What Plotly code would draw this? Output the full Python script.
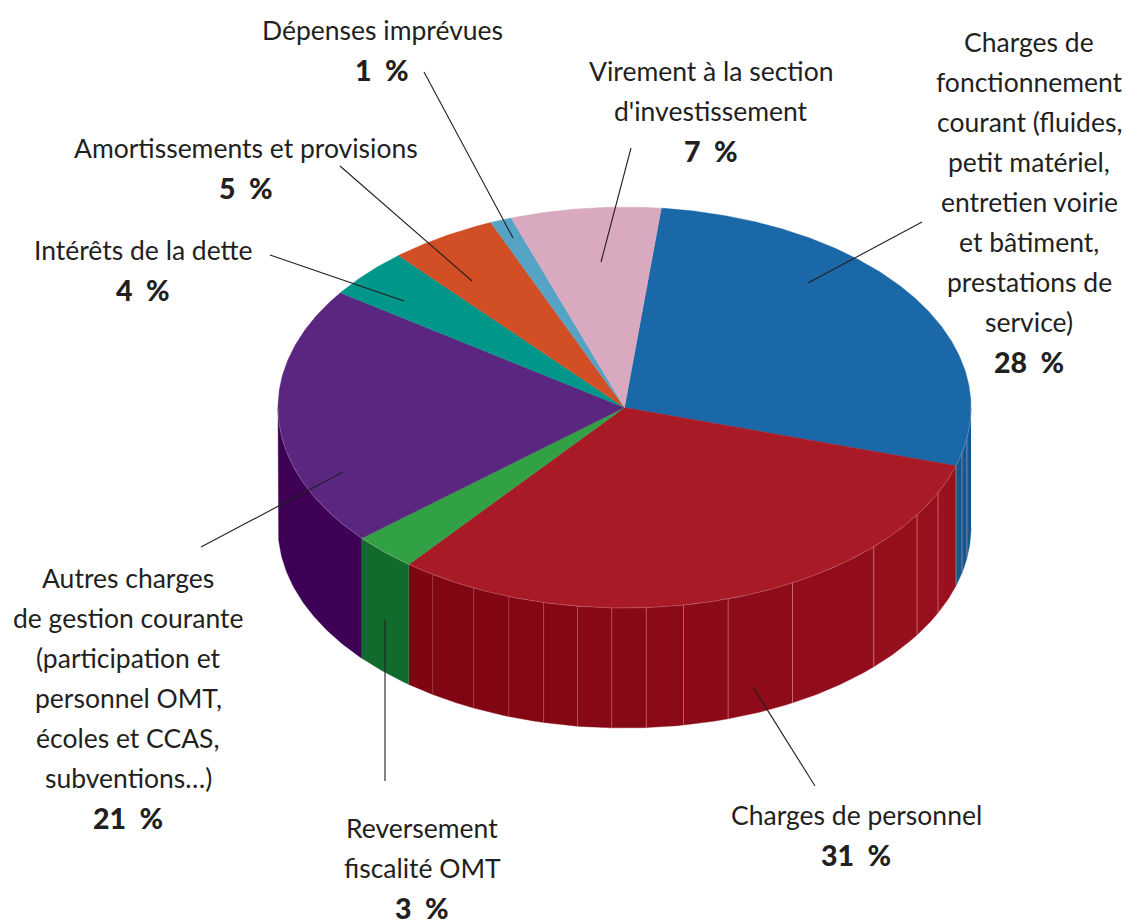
import math
import plotly.graph_objects as go

# --- data -------------------------------------------------------------
CATEGORIES = ["Charges de fonctionnement courant", "Charges de personnel",
              "Reversement fiscalité OMT", "Autres charges de gestion courante",
              "Intérêts de la dette", "Amortissements et provisions",
              "Dépenses imprévues", "Virement à la section d'investissement"]
VALUES = [28, 31, 3, 21, 4, 5, 1, 7]
LABEL_LINES = [
    ["Charges de", "fonctionnement", "courant (fluides,", "petit matériel,",
     "entretien voirie", "et bâtiment,", "prestations de", "service)"],
    ["Charges de personnel"],
    ["Reversement", "fiscalité OMT"],
    ["Autres charges", "de gestion courante", "(participation et",
     "personnel OMT,", "écoles et CCAS,", "subventions…)"],
    ["Intérêts de la dette"],
    ["Amortissements et provisions"],
    ["Dépenses imprévues"],
    ["Virement à la section", "d'investissement"],
]
# wall facet boundaries, degrees clockwise from the top of the disc
FACET_ANGLES = [90, 98.8, 103.1, 106.9, 115.2, 122.4, 134, 151, 162.6, 170.2,
                176.4, 182.1, 187.8, 193.5, 199.5, 205.8, 213.6, 218.5, 229.3, 270]

# --- style / layout ---------------------------------------------------
TOP_COLORS = ["#1a68a8", "#a71a26", "#32a045", "#5a267f", "#00968a", "#d24f25", "#55a3c5", "#d9a9bf"]
WALL_COLORS = {0: "#14588f", 2: "#106b2d", 3: "#3d0055"}
INK = "#231f20"
CX, CY, RX, RY, DEPTH = 624.5, 407.5, 346.5, 200.5, 120
START = 6.1
LINE_H = 40
FS = 26.5
# first-line centre x, y of each label block
LABEL_POS = [(1029, 42), (856, 815), (422, 828), (128, 578), (143, 250), (246, 148), (382, 30), (711, 71)]
LEADERS = [((922, 222), (808, 283)), ((815, 786), (753, 687)), ((385, 781), (385, 620)),
           ((201, 547), (343, 472)), ((270, 255), (404, 301)), ((340, 166), (472, 281)),
           ((424, 72), (513, 238)), ((631, 148), (601, 262))]


def pt(a, dy=0):
    r = math.radians(a)
    return CX + RX * math.sin(r), CY - RY * math.cos(r) + dy


def arc(a0, a1, dy=0, step=0.5):
    n = max(2, int(abs(a1 - a0) / step) + 1)
    return [pt(a0 + (a1 - a0) * i / (n - 1), dy) for i in range(n)]


def add_poly(fig, pts, color):
    fig.add_trace(go.Scatter(x=[p[0] for p in pts], y=[p[1] for p in pts], mode="lines",
                             fill="toself", fillcolor=color, line=dict(width=0.4, color=color),
                             hoverinfo="skip", showlegend=False))


def add_line(fig, pts, color, width=1):
    fig.add_trace(go.Scatter(x=[p[0] for p in pts], y=[p[1] for p in pts], mode="lines",
                             line=dict(width=width, color=color), hoverinfo="skip", showlegend=False))


# slice boundaries from the values
bounds = [START]
for v in VALUES:
    bounds.append(bounds[-1] + v * 3.6)


def slice_at(a):
    for i in range(len(VALUES)):
        if bounds[i] <= a < bounds[i + 1]:
            return i
    return 0


fig = go.Figure()

# side walls, facet by facet
for a0, a1 in zip(FACET_ANGLES[:-1], FACET_ANGLES[1:]):
    mid = (a0 + a1) / 2
    i = slice_at(mid)
    if i in WALL_COLORS:
        col = WALL_COLORS[i]
    else:
        t = (218.5 - mid) / (218.5 - 106.9)
        col = "rgb(%d,%d,%d)" % (127 + 28 * t, 5 + 13 * t, 18 + 14 * t)
    add_poly(fig, arc(a0, a1) + arc(a1, a0, DEPTH), col)

# facet edges
for a in FACET_ANGLES[1:-1]:
    t = (218.5 - a) / (218.5 - 106.9)
    op = 0.10 + 0.40 * max(0, min(1, t * 1.6))
    add_line(fig, [pt(a), pt(a, DEPTH)], "rgba(240,170,180,%.2f)" % op, 1)

# top slices
for i, col in enumerate(TOP_COLORS):
    add_poly(fig, [(CX, CY)] + arc(bounds[i], bounds[i + 1]) + [(CX, CY)], col)

# rim highlight on the visible front edge
add_line(fig, arc(FACET_ANGLES[0], FACET_ANGLES[-1]), "rgba(255,225,235,0.28)", 0.8)

# leaders
for a, b in LEADERS:
    add_line(fig, [a, b], INK, 1.1)

anns = []
for lines, v, (x, y) in zip(LABEL_LINES, VALUES, LABEL_POS):
    for k, s in enumerate(lines):
        anns.append(dict(x=x, y=y + k * LINE_H, text=s, showarrow=False, xanchor="center", yanchor="middle",
                         font=dict(family="Lato", size=FS, color=INK)))
    anns.append(dict(x=x, y=y + len(lines) * LINE_H, text="%d  %%" % v, showarrow=False,
                     xanchor="center", yanchor="middle",
                     font=dict(family="Lato", size=FS + 2, color=INK, weight=900)))

fig.update_layout(
    width=1144, height=920, margin=dict(l=0, r=0, t=0, b=0),
    paper_bgcolor="white", plot_bgcolor="white", showlegend=False, annotations=anns,
    xaxis=dict(range=[0, 1144], visible=False, fixedrange=True),
    yaxis=dict(range=[920, 0], visible=False, fixedrange=True),
)
fig.write_html("out.html", config={"displayModeBar": False},
               post_script="document.body.style.margin='0';document.documentElement.style.overflow='hidden';")
